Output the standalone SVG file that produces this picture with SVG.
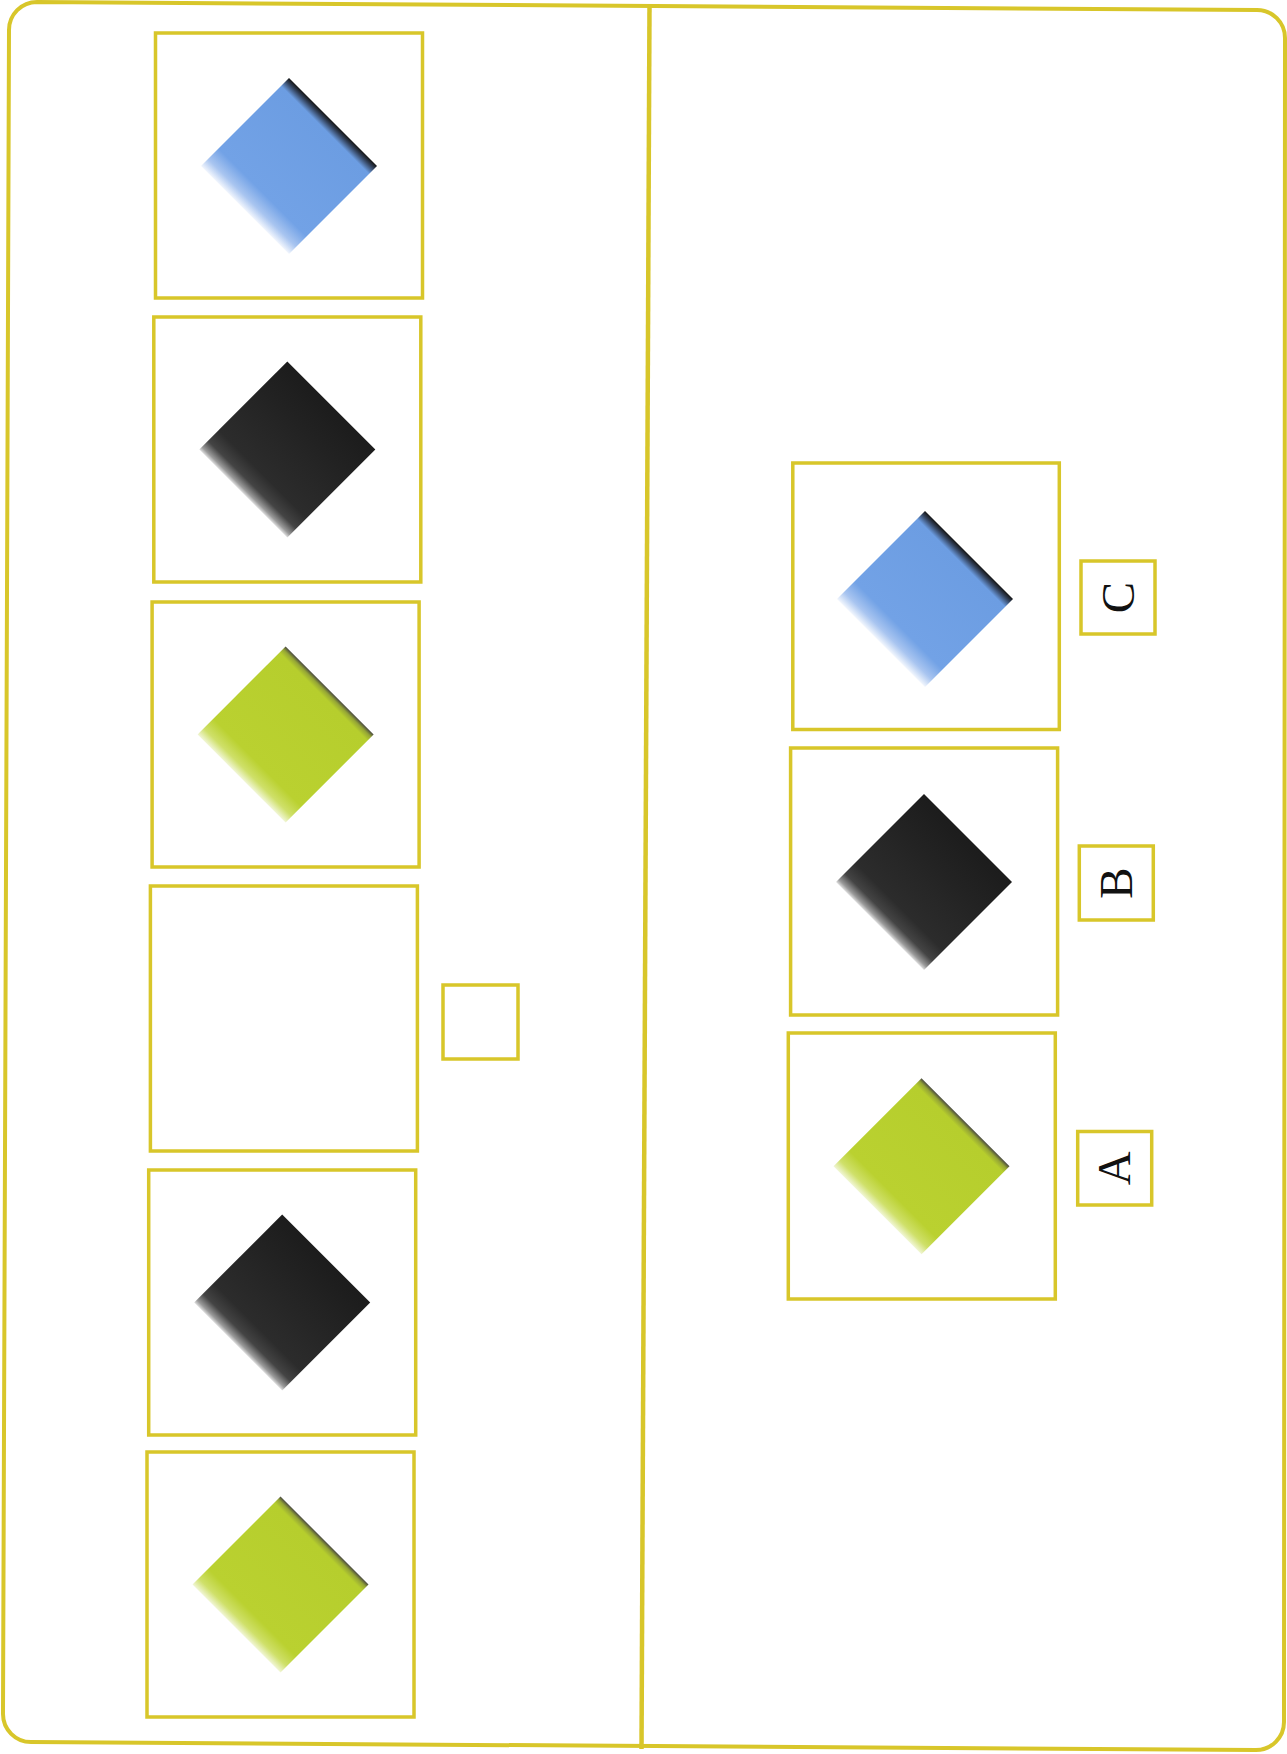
<svg xmlns="http://www.w3.org/2000/svg" xmlns:xlink="http://www.w3.org/1999/xlink" width="1287" height="1754" viewBox="0 0 1287 1754">
  <style>
    .frame { fill: none; stroke: #d8c62a; stroke-width: 4; stroke-linejoin: round; }
    .divider { fill: none; stroke: #d8c62a; stroke-width: 4.5; }
    .box { fill: #ffffff; stroke: #d8c62a; stroke-width: 3.5; }
    .lbl { font-family: "Liberation Serif", "Times New Roman", serif; fill: #111111; text-anchor: middle; }
  </style>
  <defs>
    <polygon id="dia" points="0,-88 88,0 0,88 -88,0"/>
    <linearGradient id="gBlue" x1="0.75" y1="0.25" x2="0.25" y2="0.75">
      <stop offset="0" stop-color="#141414"/>
      <stop offset="0.035" stop-color="#34445f"/>
      <stop offset="0.09" stop-color="#6c9de2"/>
      <stop offset="0.8" stop-color="#72a2e6"/>
      <stop offset="0.92" stop-color="#a9c5f0"/>
      <stop offset="1" stop-color="#f2f6fd"/>
    </linearGradient>
    <linearGradient id="gBlack" x1="0.75" y1="0.25" x2="0.25" y2="0.75">
      <stop offset="0" stop-color="#1c1c1c"/>
      <stop offset="0.78" stop-color="#2c2c2c"/>
      <stop offset="0.9" stop-color="#444444"/>
      <stop offset="0.97" stop-color="#9a9a9a"/>
      <stop offset="1" stop-color="#e0e0e0"/>
    </linearGradient>
    <linearGradient id="gGreen" x1="0.75" y1="0.25" x2="0.25" y2="0.75">
      <stop offset="0" stop-color="#4a4a40"/>
      <stop offset="0.03" stop-color="#95a535"/>
      <stop offset="0.07" stop-color="#b6ce2d"/>
      <stop offset="0.82" stop-color="#bad130"/>
      <stop offset="0.93" stop-color="#cfe06a"/>
      <stop offset="1" stop-color="#f1f6d6"/>
    </linearGradient>
  </defs>

  <rect x="0" y="0" width="1287" height="1754" fill="#ffffff"/>

  <g id="frame">
    <path class="frame" d="M 37,2 L 1257,10 A 28 28 0 0 1 1285,38 L 1284,1722 A 28 28 0 0 1 1256,1750 L 31,1742 A 28 28 0 0 1 3,1714 L 9,30 A 28 28 0 0 1 37,2 Z"/>
    <line class="divider" x1="649.5" y1="6" x2="641.5" y2="1749"/>
  </g>

  <g id="connectors"></g>

  <g id="seq1">
    <rect class="box" x="155.5" y="33" width="267" height="265"/>
    <use xlink:href="#dia" href="#dia" x="289" y="166" fill="url(#gBlue)"/>
  </g>
  <g id="seq2">
    <rect class="box" x="153.8" y="317" width="267" height="265"/>
    <use xlink:href="#dia" href="#dia" x="287.3" y="449.5" fill="url(#gBlack)"/>
  </g>
  <g id="seq3">
    <rect class="box" x="152.1" y="602" width="267" height="265"/>
    <use xlink:href="#dia" href="#dia" x="285.6" y="734.5" fill="url(#gGreen)"/>
  </g>
  <g id="seq4">
    <rect class="box" x="150.4" y="886" width="267" height="265"/>
  </g>
  <g id="answer-slot">
    <rect class="box" x="443" y="985" width="75" height="74"/>
  </g>
  <g id="seq5">
    <rect class="box" x="148.7" y="1170" width="267" height="265"/>
    <use xlink:href="#dia" href="#dia" x="282.2" y="1302.5" fill="url(#gBlack)"/>
  </g>
  <g id="seq6">
    <rect class="box" x="147" y="1452" width="267" height="265"/>
    <use xlink:href="#dia" href="#dia" x="280.5" y="1584.5" fill="url(#gGreen)"/>
  </g>

  <g id="optC">
    <rect class="box" x="792.8" y="463" width="266.5" height="266.5"/>
    <use xlink:href="#dia" href="#dia" x="925" y="599" fill="url(#gBlue)"/>
  </g>
  <g id="labelC">
    <rect class="box" x="1081" y="561" width="74" height="73"/>
    <text class="lbl" font-size="47" transform="translate(1118,597.5) rotate(-90)" x="0" y="15.5">C</text>
  </g>
  <g id="optB">
    <rect class="box" x="790.6" y="748" width="267" height="267"/>
    <use xlink:href="#dia" href="#dia" x="924" y="882" fill="url(#gBlack)"/>
  </g>
  <g id="labelB">
    <rect class="box" x="1079.3" y="846" width="74" height="74"/>
    <text class="lbl" font-size="47" transform="translate(1116.3,883) rotate(-90)" x="0" y="15.5">B</text>
  </g>
  <g id="optA">
    <rect class="box" x="788.3" y="1033" width="267" height="266"/>
    <use xlink:href="#dia" href="#dia" x="921.5" y="1166.3" fill="url(#gGreen)"/>
  </g>
  <g id="labelA">
    <rect class="box" x="1077.7" y="1131.5" width="74" height="73.5"/>
    <text class="lbl" font-size="47" transform="translate(1114.7,1168.3) rotate(-90)" x="0" y="15.5">A</text>
  </g>
</svg>
